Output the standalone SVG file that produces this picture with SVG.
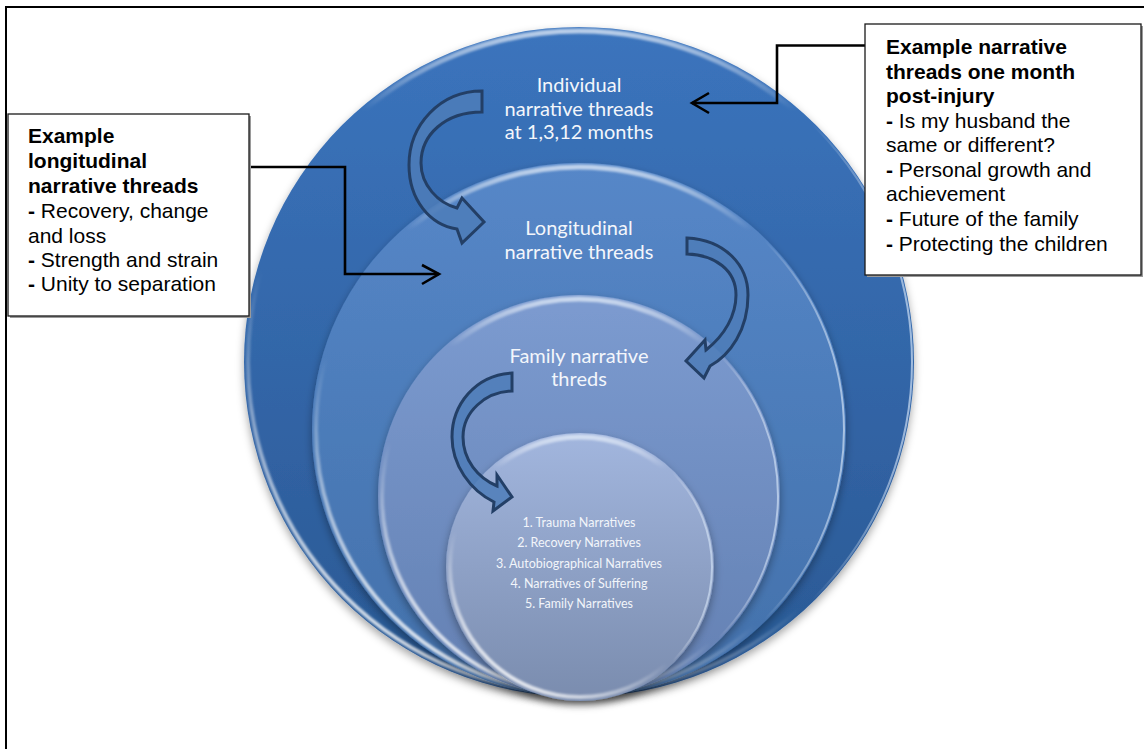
<svg xmlns="http://www.w3.org/2000/svg" width="1144" height="749" viewBox="0 0 1144 749">
<style>
.frame{fill:none;stroke:#000;stroke-width:2}
.box{fill:#fff;stroke:#1a1a1a;stroke-width:1.3}
.boxsh{fill:#9a9a9a}
.bt{font-family:"Liberation Sans",Arial,sans-serif;font-size:21px;fill:#000}
.b{font-weight:bold}
.lbl{font-family:Lato,"Open Sans",sans-serif;font-size:20px;fill:#f3f6fb;text-anchor:middle}
.sm{font-family:Lato,"Open Sans",sans-serif;font-size:12.5px;fill:#f2f5fa;text-anchor:middle}
.conn{fill:none;stroke:#000;stroke-width:2.6;stroke-linejoin:miter}
.carrow{fill:#4d7db8;fill-opacity:.85;stroke:#233f66;stroke-width:3;stroke-linejoin:miter}
.rimll{fill:none;stroke:url(#rimLL);stroke-width:4}
.rimtop{fill:none;stroke:url(#rimTop);stroke-width:5}
.rimr{fill:none;stroke:url(#rimR);stroke-width:2}
</style>
<defs>
<linearGradient id="gOuter" x1="0" y1="0" x2="0" y2="1"><stop offset="0" stop-color="#3b74bd"/><stop offset="1" stop-color="#2a5893"/></linearGradient>
<linearGradient id="gSecond" x1="0" y1="0" x2="0" y2="1"><stop offset="0" stop-color="#5687c8"/><stop offset="1" stop-color="#4270aa"/></linearGradient>
<linearGradient id="gThird" x1="0" y1="0" x2="0" y2="1"><stop offset="0" stop-color="#7c9bd0"/><stop offset="1" stop-color="#6380b2"/></linearGradient>
<linearGradient id="gInner" x1="0" y1="0" x2="0" y2="1"><stop offset="0" stop-color="#a2b6de"/><stop offset="1" stop-color="#7a8cae"/></linearGradient>
<linearGradient id="rimLL" x1="0.15" y1="1" x2="0.4" y2="0.6"><stop offset="0" stop-color="#fff" stop-opacity="1"/><stop offset="1" stop-color="#fff" stop-opacity="0"/></linearGradient>
<linearGradient id="rimTop" x1="0" y1="0" x2="0" y2="1"><stop offset="0" stop-color="#e3ecf8" stop-opacity="0.75"/><stop offset="0.12" stop-color="#fff" stop-opacity="0"/></linearGradient>
<linearGradient id="rimR" x1="1" y1="0.5" x2="0.85" y2="0.5"><stop offset="0" stop-color="#cfe0f5" stop-opacity="0.7"/><stop offset="1" stop-color="#fff" stop-opacity="0"/></linearGradient>
<filter id="soft" x="-5%" y="-5%" width="110%" height="110%"><feGaussianBlur stdDeviation="1.2"/></filter>
<filter id="ds" x="-10%" y="-10%" width="120%" height="125%"><feDropShadow dx="0" dy="4" stdDeviation="4" flood-color="#000" flood-opacity="0.35"/></filter>
</defs>

<g id="frame">
<line class="frame" x1="5" y1="7" x2="1144" y2="7"/>
<line class="frame" x1="6" y1="6" x2="6" y2="749"/>
</g>

<g id="node-individual">
<circle cx="579" cy="362" r="335" fill="url(#gOuter)" filter="url(#ds)"/>
<circle class="rimtop" cx="579" cy="362" r="331" filter="url(#soft)"/>
<circle class="rimr" cx="579" cy="362" r="333"/>
<circle class="rimll" cx="579" cy="362" r="331" filter="url(#soft)"/>
<text class="lbl" x="579" y="92">Individual</text>
<text class="lbl" x="579" y="115.5">narrative threads</text>
<text class="lbl" x="579" y="139">at 1,3,12 months</text>
</g>

<g id="node-longitudinal">
<circle cx="579" cy="430" r="267" fill="url(#gSecond)" filter="url(#ds)"/>
<circle class="rimtop" cx="579" cy="430" r="263" filter="url(#soft)"/>
<circle class="rimr" cx="579" cy="430" r="265"/>
<circle class="rimll" cx="579" cy="430" r="263" filter="url(#soft)"/>
<text class="lbl" x="579" y="235">Longitudinal</text>
<text class="lbl" x="579" y="258.5">narrative threads</text>
</g>

<g id="node-family">
<circle cx="579" cy="496" r="201" fill="url(#gThird)" filter="url(#ds)"/>
<circle class="rimtop" cx="579" cy="496" r="197" filter="url(#soft)"/>
<circle class="rimr" cx="579" cy="496" r="199"/>
<circle class="rimll" cx="579" cy="496" r="197" filter="url(#soft)"/>
<text class="lbl" x="579" y="363">Family narrative</text>
<text class="lbl" x="579" y="386">threds</text>
</g>

<g id="node-narratives">
<circle cx="580" cy="567" r="134" fill="url(#gInner)" filter="url(#ds)"/>
<circle class="rimtop" cx="580" cy="567" r="130" filter="url(#soft)"/>
<circle class="rimr" cx="580" cy="567" r="132"/>
<circle class="rimll" cx="580" cy="567" r="130" filter="url(#soft)"/>
<text class="sm" x="579" y="527">1. Trauma Narratives</text>
<text class="sm" x="579" y="547">2. Recovery Narratives</text>
<text class="sm" x="579" y="567.5">3. Autobiographical Narratives</text>
<text class="sm" x="579" y="588">4. Narratives of Suffering</text>
<text class="sm" x="579" y="608">5. Family Narratives</text>
</g>

<g id="connectors">
<path class="carrow" d="M482 91 C440 91 409 125 409 165 C409 200 430 225 457 229 L462 243 L484 222 L462 198 L457 208 C438 203 421 185 421 163 C421 135 445 112 482 112 Z"/>
<path class="carrow" d="M687 238 C725 240 748 265 748 295 C748 330 730 355 710 366 L704 378 L686 361 L705 340 L706 350 C725 335 736 315 736 295 C736 270 715 255 687 254 Z"/>
<path class="carrow" d="M512 373 C475 375 452 405 452 437 C452 465 470 490 494 502 L493 511 L512 497 L497 475 L497 486 C478 478 463 460 463 437 C463 412 485 392 512 391 Z"/>
<path class="conn" d="M249 167 H345 V274 H439"/>
<path class="conn" d="M422 265 L439 274 L422 284"/>
<path class="conn" d="M865 45.5 H777 V103 H692"/>
<path class="conn" d="M709 93 L692 103 L709 113"/>
</g>

<g id="box-longitudinal">
<rect class="boxsh" x="10" y="116" width="241" height="202"/>
<rect class="box" x="8" y="114" width="241" height="202"/>
<text class="bt b" x="28" y="143">Example</text>
<text class="bt b" x="28" y="168">longitudinal</text>
<text class="bt b" x="28" y="193">narrative threads</text>
<text class="bt" x="28" y="218"><tspan class="b">-</tspan> Recovery, change</text>
<text class="bt" x="28" y="243">and loss</text>
<text class="bt" x="28" y="267"><tspan class="b">-</tspan> Strength and strain</text>
<text class="bt" x="28" y="291"><tspan class="b">-</tspan> Unity to separation</text>
</g>

<g id="box-one-month">
<rect class="boxsh" x="867" y="26" width="276" height="251"/>
<rect class="box" x="865" y="24" width="276" height="251"/>
<text class="bt b" x="886" y="54">Example narrative</text>
<text class="bt b" x="886" y="79">threads one month</text>
<text class="bt b" x="886" y="103">post-injury</text>
<text class="bt" x="886" y="128"><tspan class="b">-</tspan> Is my husband the</text>
<text class="bt" x="886" y="152">same or different?</text>
<text class="bt" x="886" y="177"><tspan class="b">-</tspan> Personal growth and</text>
<text class="bt" x="886" y="201">achievement</text>
<text class="bt" x="886" y="226"><tspan class="b">-</tspan> Future of the family</text>
<text class="bt" x="886" y="251"><tspan class="b">-</tspan> Protecting the children</text>
</g>
</svg>
